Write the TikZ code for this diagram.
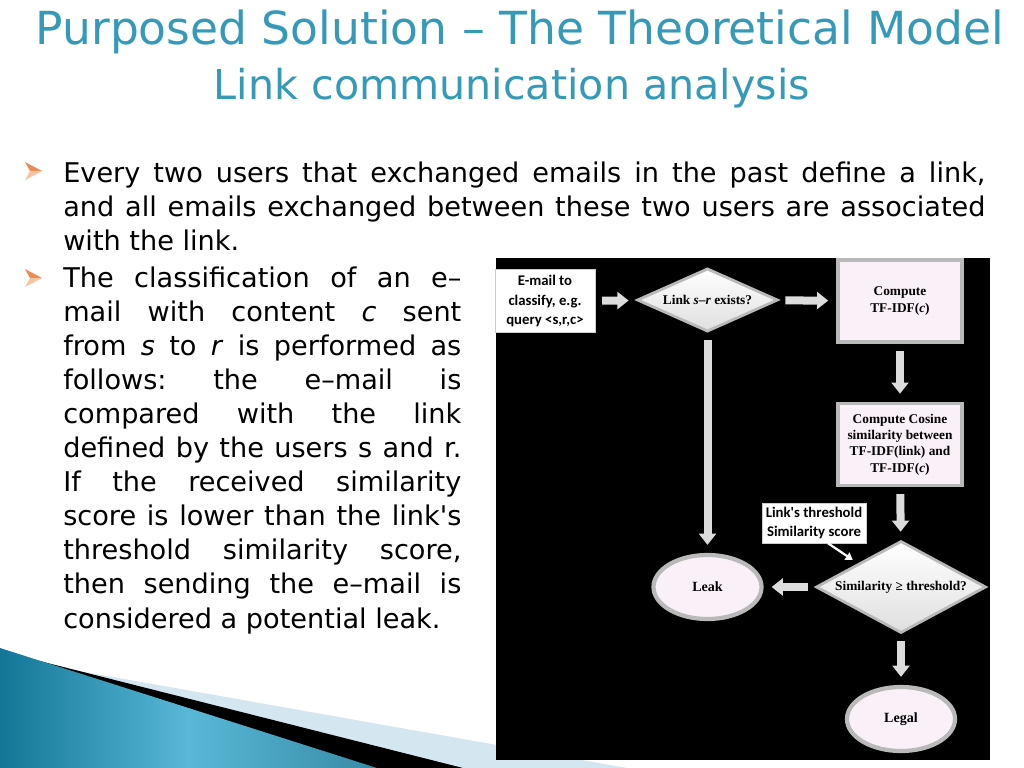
\documentclass[tikz,border=0pt]{standalone}
\usepackage{fontspec}
\setmainfont{DejaVu Sans}
\newfontfamily\flowfont{Liberation Serif}
\newfontfamily\notefont{Carlito}
\usetikzlibrary{shapes.geometric,arrows.meta}
\frenchspacing

\definecolor{titleblue}{RGB}{52,154,184}
\definecolor{bulletorange}{RGB}{236,140,80}
\definecolor{bulletpeach}{RGB}{248,196,160}
\definecolor{boxfill}{RGB}{250,240,248}
\definecolor{arrowgray}{RGB}{220,220,220}
\definecolor{deepteal}{RGB}{20,118,150}
\definecolor{lightteal}{RGB}{88,184,214}
\definecolor{paleblue}{RGB}{212,230,240}

\tikzset{
    titletext/.style={anchor=base, inner sep=0pt, text=titleblue},
    bodytext/.style={anchor=base west, inner sep=0pt, font=\fontsize{19.3}{23}\selectfont},
    procbox/.style={draw=gray!55, line width=2.5pt, fill=boxfill, minimum width=3.1cm,
        minimum height=2.05cm, align=center, inner sep=1pt,
        font=\flowfont\bfseries\fontsize{9.5}{11.6}\selectfont},
    decision/.style={diamond, aspect=2, draw=gray!55, line width=2pt, top color=white,
        bottom color=gray!25, inner sep=0pt, font=\flowfont\bfseries\fontsize{9.5}{11.6}\selectfont},
    terminal/.style={ellipse, draw=gray!55, line width=3pt, fill=boxfill, minimum width=2.7cm,
        minimum height=1.6cm, font=\flowfont\bfseries\fontsize{10}{12}\selectfont},
    notebox/.style={fill=white, draw=gray!40, align=center, inner sep=0pt,
        font=\notefont\bfseries\fontsize{10.5}{13.8}\selectfont},
    blockarrow/.style={line width=0.2cm, arrowgray, shorten <=0.17cm, shorten >=0.2cm,
        -{Triangle[width=0.42cm,length=0.28cm]}},
    notearrow/.style={line width=1.6pt, white, shorten >=0.15cm,
        -{Triangle[width=6pt,length=5pt]}},
}

\begin{document}
\begin{tikzpicture}[x=0.025cm, y=-0.025cm]
    \useasboundingbox (0,0) rectangle (1024,768);

    % Corner decoration
    \fill[paleblue] (0,657) -- (627,768) -- (0,768) -- cycle;
    \fill[black] (0,651) -- (463,768) -- (0,768) -- cycle;
    \shade[left color=deepteal, right color=deepteal!85, middle color=lightteal]
        (0,648) -- (377,768) -- (0,768) -- cycle;

    % Title
    \node[titletext, font=\fontsize{32.4}{38}\selectfont] (title) at (520,45)
        {Purposed Solution – The Theoretical Model};
    \node[titletext, font=\fontsize{29.3}{35}\selectfont] (subtitle) at (512,100)
        {Link communication analysis};

    % Bullets
    \foreach \by in {171,278} {
        \fill[bulletorange] (25,\by-9) -- (42,\by) -- (30,\by) -- cycle;
        \fill[bulletpeach] (30,\by) -- (42,\by) -- (25,\by+9) -- cycle;
    }

    % First item
    \foreach \txt [count=\i from 0] in {
        {Every two users that exchanged emails in the past define a link,},
        {and all emails exchanged between these two users are associated}}
        \node[bodytext] (first\i) at (63,182+34*\i) {\makebox[23.05cm][s]{\txt}};
    \node[bodytext] (firstlast) at (63,250) {with the link.};

    % Second item
    \foreach \txt [count=\i from 0] in {
        {The classification of an e–},
        {mail with content \textit{c} sent},
        {from \textit{s} to \textit{r} is performed as},
        {follows: the e–mail is},
        {compared with the link},
        {defined by the users s and r.},
        {If the received similarity},
        {score is lower than the link\textquotesingle s},
        {threshold similarity score,},
        {then sending the e–mail is}}
        \node[bodytext] (second\i) at (63,287+34.1*\i) {\makebox[9.95cm][s]{\txt}};
    \node[bodytext] (secondlast) at (63,628) {considered a potential leak.};

    % Flowchart
    \fill[black] (496,258) rectangle (990,760);

    \node[notebox, minimum width=2.5cm, minimum height=1.58cm] (inbox) at (545,301)
        {E-mail to\\classify, e.g.\\query <s,r,c>};
    \node[decision, minimum width=3.52cm, minimum height=1.58cm] (exists) at (707.5,300)
        {Link \textit{s}–\textit{r} exists?};
    \node[procbox] (tfidf) at (900,301) {Compute\\TF-IDF(\textit{c})};
    \node[procbox] (cosine) at (900,444.5)
        {Compute Cosine\\similarity between\\TF-IDF(link) and\\TF-IDF(\textit{c})};
    \node[decision, minimum width=4.25cm, minimum height=2.3cm] (simcheck) at (901,587)
        {Similarity ≥ threshold?};
    \node[terminal] (leak) at (707.5,587) {Leak};
    \node[terminal] (legal) at (901,719) {Legal};
    \node[notebox, minimum width=2.6cm, minimum height=1cm] (thresh) at (814,523)
        {Link\textquotesingle s threshold\\Similarity score};

    \draw[blockarrow] (inbox) -- (exists);
    \draw[blockarrow] (exists) -- (tfidf);
    \draw[blockarrow] (tfidf) -- (cosine);
    \draw[blockarrow] (cosine) -- (simcheck);
    \draw[blockarrow] (exists) -- (leak);
    \draw[blockarrow] (simcheck) -- (leak);
    \draw[blockarrow] (simcheck) -- (legal);
    \draw[notearrow] ([xshift=0.35cm]thresh.south) -- (simcheck.north west);
\end{tikzpicture}
\end{document}
